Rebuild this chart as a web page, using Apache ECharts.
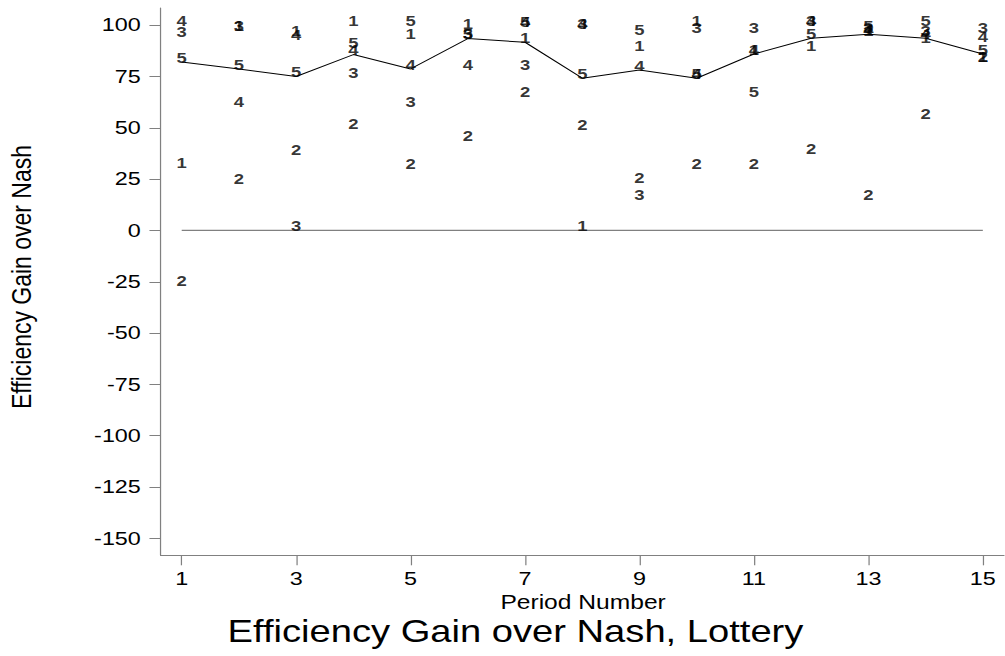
<!DOCTYPE html>
<html>
<head>
<meta charset="utf-8">
<script src="https://cdn.jsdelivr.net/npm/echarts@6/dist/echarts.min.js"></script>
<style>
  html, body { margin: 0; padding: 0; background: #fff; overflow: hidden; }
  #wrap { width: 1005px; height: 656px; overflow: hidden; }
  /* the chart is laid out narrow and widened, giving the broad lettering of the graph */
  #chart { width: 817px; height: 656px; transform: scaleX(1.2301); transform-origin: 0 0; }
</style>
</head>
<body>
<div id="wrap"><div id="chart"></div></div>
<script>
// Periods 1..15
const periods = [1, 2, 3, 4, 5, 6, 7, 8, 9, 10, 11, 12, 13, 14, 15];

// Efficiency gain over Nash for each group, by period
const group1 = [30.8, 97.6, 95.4, 100, 93.5, 98.7, 91.7, 0, 88.1, 100, 86.0, 88.1, 95.0, 91.7, 82.5];
const group2 = [-26.4, 23.1, 37.3, 50.0, 30.5, 43.8, 65.7, 49.5, 23.5, 30.3, 30.3, 37.6, 15.4, 54.8, 82.5];
const group3 = [94.8, 97.6, 0, 74.7, 60.8, 93.5, 78.7, 98.5, 15.4, 96.6, 96.9, 100, 96.5, 95.0, 96.6];
const group4 = [100, 60.5, 93.2, 85.7, 78.7, 78.7, 99.5, 98.5, 78.2, 74.2, 86.0, 100, 95.6, 93.7, 92.2];
const group5 = [82.1, 78.7, 75.0, 89.4, 100, 93.5, 99.5, 74.2, 95.8, 74.2, 65.4, 93.7, 97.5, 100, 86.0];

// Median across groups in each period
const medianGain = [82.1, 78.7, 75.0, 85.7, 78.7, 93.5, 91.7, 74.2, 78.2, 74.2, 86.0, 93.7, 95.6, 93.7, 86.0];

// Reference line at zero, from first to last period
const zeroLineX = [1, 15];
const zeroLineY = [0, 0];

const groupNames = ['1', '2', '3', '4', '5'];
const groups = [group1, group2, group3, group4, group5];

const xTicks = [1, 3, 5, 7, 9, 11, 13, 15];
const yTicks = [-150, -125, -100, -75, -50, -25, 0, 25, 50, 75, 100];

const titleText = 'Efficiency Gain over Nash, Lottery';
const yTitle = 'Efficiency Gain over Nash';
const xTitle = 'Period Number';

const FONT = '"Liberation Sans", Arial, Helvetica, sans-serif';
const AXIS_GRAY = '#808080';

const chart = echarts.init(document.getElementById('chart'), null, { renderer: 'svg' });

const groupSeries = groups.map((vals, gi) => ({
  type: 'scatter',
  name: groupNames[gi],
  data: periods.map((p, i) => [p, vals[i]]),
  symbolSize: 1,
  itemStyle: { color: 'rgba(0,0,0,0)' },
  label: {
    show: true,
    position: 'inside',
    offset: [0, -4],
    formatter: () => groupNames[gi],
    color: '#000',
    fontFamily: FONT,
    fontWeight: 'bold',
    fontSize: 15
  },
  emphasis: { disabled: true },
  z: 3
}));

chart.setOption({
  animation: false,
  backgroundColor: '#fff',
  grid: { left: 130.5, right: 0.8, top: 8, bottom: 100.7, containLabel: false },
  xAxis: {
    type: 'value',
    min: 0.63,
    max: 15.37,
    splitLine: { show: false },
    axisLine: { show: true, onZero: false, lineStyle: { color: AXIS_GRAY, width: 1 } },
    axisTick: { show: true, customValues: xTicks, length: 10, lineStyle: { color: AXIS_GRAY } },
    axisLabel: {
      customValues: xTicks,
      margin: 14,
      color: '#000',
      fontFamily: FONT,
      fontSize: 19
    }
  },
  yAxis: {
    type: 'value',
    min: -158.3,
    max: 108.4,
    splitLine: { show: false },
    axisLine: { show: true, onZero: false, lineStyle: { color: AXIS_GRAY, width: 1 } },
    axisTick: { show: true, customValues: yTicks, length: 9, lineStyle: { color: AXIS_GRAY } },
    axisLabel: {
      customValues: yTicks,
      margin: 16,
      color: '#000',
      fontFamily: FONT,
      fontSize: 19
    }
  },
  title: [
    {
      text: titleText,
      left: 180,
      top: 611,
      textStyle: { fontFamily: FONT, fontWeight: 'normal', fontSize: 31, color: '#000' }
    },
    {
      text: xTitle,
      left: 469,
      textAlign: 'center',
      top: 587,
      textStyle: { fontFamily: FONT, fontWeight: 'normal', fontSize: 20, color: '#000' }
    }
  ],
  graphic: [
    {
      type: 'text',
      x: 17,
      y: 277,
      rotation: Math.PI / 2,
      style: {
        text: yTitle,
        fontFamily: FONT,
        fontSize: 23,
        fill: '#000',
        textAlign: 'center',
        textVerticalAlign: 'middle'
      }
    }
  ],
  series: [
    {
      type: 'line',
      name: 'zero',
      data: zeroLineX.map((x, i) => [x, zeroLineY[i]]),
      showSymbol: false,
      symbol: 'none',
      lineStyle: { color: AXIS_GRAY, width: 1.3 },
      emphasis: { disabled: true },
      z: 1
    },
    {
      type: 'line',
      name: 'median',
      data: periods.map((p, i) => [p, medianGain[i]]),
      showSymbol: false,
      symbol: 'none',
      lineStyle: { color: '#000', width: 1 },
      emphasis: { disabled: true },
      z: 2
    },
    ...groupSeries
  ]
});
</script>
</body>
</html>
